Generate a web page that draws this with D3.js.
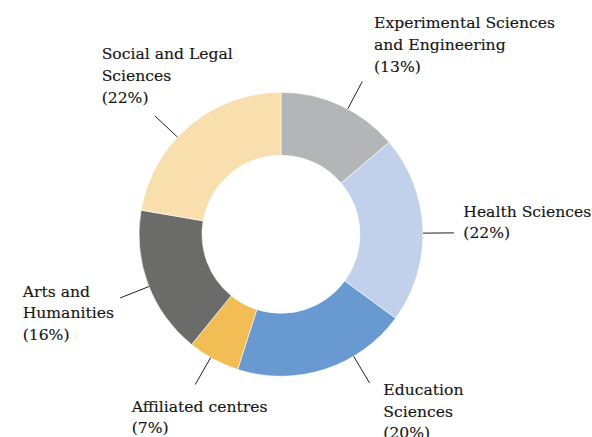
<!DOCTYPE html>
<html>
<head>
<meta charset="utf-8">
<script src="https://cdn.jsdelivr.net/npm/d3@7"></script>
<style>
  html, body { margin: 0; padding: 0; background: #fff; }
  svg text { font-family: "DejaVu Serif", serif; font-size: 15.6px; fill: #151515; stroke: #151515; stroke-width: 0.15px; }
</style>
</head>
<body>
<svg id="chart" width="592" height="437"></svg>
<script>
// ---- data ----
const categories = [
  "Experimental Sciences and Engineering",
  "Health Sciences",
  "Education Sciences",
  "Affiliated centres",
  "Arts and Humanities",
  "Social and Legal Sciences"
];
const labelLines = [
  ["Experimental Sciences", "and Engineering"],
  ["Health Sciences"],
  ["Education", "Sciences"],
  ["Affiliated centres"],
  ["Arts and", "Humanities"],
  ["Social and Legal", "Sciences"]
];
const shares = [13.8, 21.3, 19.9, 5.9, 16.9, 22.3];
const percentLabels = ["13%", "22%", "20%", "7%", "16%", "22%"];
const colors = ["#b4b5b6", "#c1d1eb", "#6999d1", "#f2bd55", "#6b6c6a", "#f9dfae"];

// ---- layout (annotation placement) ----
const cx = 281, cy = 234.3, outerR = 142, innerR = 79, leaderEndR = 173;
const labelAnchors = [[374, 28.3], [463.3, 216.5], [383.3, 395], [131.7, 411.7], [22.7, 296.7], [101.7, 59.3]];
const leaderOffsetDeg = [3.2, 1.6, -12.8, 1.3, -1, -6.7];
const lineHeight = 21.7;

const svg = d3.select("#chart");
const g = svg.append("g").attr("transform", `translate(${cx},${cy})`);

const pie = d3.pie().sort(null).value(d => d).startAngle(0).endAngle(2 * Math.PI);
const arcs = pie(shares);
const arc = d3.arc().innerRadius(innerR).outerRadius(outerR);

g.selectAll("path.slice")
  .data(arcs)
  .join("path")
  .attr("class", "slice")
  .attr("d", arc)
  .attr("fill", (d, i) => colors[i])
  .attr("stroke", "#fff")
  .attr("stroke-width", 0.6);

// leader lines
g.selectAll("line.leader")
  .data(arcs)
  .join("line")
  .attr("class", "leader")
  .each(function (d, i) {
    const a = (d.startAngle + d.endAngle) / 2 + leaderOffsetDeg[i] * Math.PI / 180;
    d3.select(this)
      .attr("x1", outerR * Math.sin(a))
      .attr("y1", -outerR * Math.cos(a))
      .attr("x2", leaderEndR * Math.sin(a))
      .attr("y2", -leaderEndR * Math.cos(a));
  })
  .attr("stroke", "#222")
  .attr("stroke-width", 1);

// labels
const labels = svg.selectAll("text.lbl")
  .data(categories)
  .join("text")
  .attr("class", "lbl")
  .attr("x", (d, i) => labelAnchors[i][0])
  .attr("y", (d, i) => labelAnchors[i][1]);

labels.each(function (d, i) {
  const t = d3.select(this);
  const lines = labelLines[i].concat([`(${percentLabels[i]})`]);
  lines.forEach((ln, k) => {
    t.append("tspan")
      .attr("x", labelAnchors[i][0])
      .attr("dy", k === 0 ? 0 : lineHeight)
      .text(ln);
  });
});
</script>
</body>
</html>
